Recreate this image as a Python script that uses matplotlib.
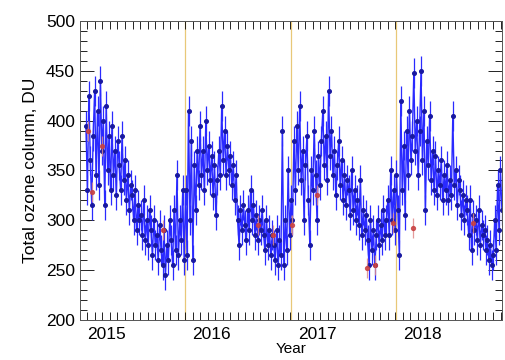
import numpy as np
import matplotlib.pyplot as plt
from matplotlib.ticker import MultipleLocator

plt.rcParams['font.family'] = ['Liberation Sans', 'DejaVu Sans']

# Daily-ish total ozone (DU), one value every 5 days starting late Oct 2014
start_year = 2014.807
step_days = 5
ozone = [
    # Oct 2014 - Sep 2015
    395, 330, 425, 360, 315,
    385, 430, 345, 410, 335,
    440, 370, 400, 315,
    415, 350, 385, 330,
    395, 345, 370, 325, 380,
    355, 330, 385, 340,
    360, 320, 345, 310, 335,
    325, 300, 330, 290, 315, 300,
    305, 285, 320, 280, 300, 275, 310,
    290, 265, 300, 275, 285, 260, 295,
    270, 255, 290, 245, 275, 260, 300,
    280, 255, 310, 270, 345, 265, 300, 280, 330, 260,
    # Oct 2015 - Sep 2016
    330, 265, 410, 300, 380,
    260, 355, 310, 370,
    335, 395, 345, 370, 330,
    400, 350, 375, 340, 365,
    325, 355, 305, 340, 370, 345,
    415, 360, 390, 345, 375, 350,
    365, 335, 355, 320, 345,
    300, 275, 310, 290, 315,
    295, 280, 310, 290, 330, 300,
    315, 285, 305, 280, 300, 290, 310,
    285, 270, 300, 275, 290, 265, 285,
    275, 260, 290, 255, 280, 265,
    390, 255, 300, 270, 350, 285, 320,
    # Oct 2016 - Sep 2017
    300, 380, 330, 395, 350,
    415, 340, 370, 300, 355,
    385, 320, 275, 350, 330,
    390, 345, 300, 365, 335, 380,
    410, 355, 385, 340, 430, 365,
    390, 345, 370, 325, 355,
    380, 335, 360, 320, 345, 315, 340,
    330, 305, 350, 310, 330, 300,
    320, 295, 340, 285, 310, 290, 305,
    280, 255, 300, 270, 290, 255, 285,
    300, 275, 295, 280, 310, 285,
    300, 320, 285, 350, 300, 330, 290, 345, 310,
    # Oct 2017 - Sep 2018
    265, 420, 330, 375, 305,
    390, 345, 410, 360, 385,
    448, 370, 400, 345, 390,
    450, 360, 410, 310, 380,
    355, 405, 340, 370, 330,
    365, 325, 350, 335, 360, 320,
    345, 330, 355, 320, 340, 325,
    405, 335, 350, 315, 340,
    330, 305, 325, 300, 320,
    310, 285, 320, 270, 305, 290,
    300, 280, 310, 275, 295, 285,
    290, 270, 280, 260, 275, 255, 265,
    300, 270, 335, 290, 350, 310,
]
ozone_err = 15

# second (ground-based) series shown in red
red_years = [2014.826, 2014.864, 2014.959, 2015.537, 2016.437, 2016.579, 2016.759,
             2016.996, 2017.470, 2017.546, 2017.717, 2017.906, 2018.475]
red_ozone = [390, 328, 375, 290, 295, 285, 295, 325, 252, 255, 297, 292, 297]
red_err = 10

season_lines = [2015.75, 2016.75, 2017.75]
year_ticks = [2015.0, 2016.0, 2017.0, 2018.0]
year_labels = ['2015', '2016', '2017', '2018']

years = start_year + np.arange(len(ozone)) * step_days / 365.25

fig = plt.figure(figsize=(5.06, 3.6), dpi=100)
ax = fig.add_axes([0.158, 0.111, 0.834, 0.831])

for x in season_lines:
    ax.axvline(x, color='#e8c878', lw=0.9, zorder=1)

ax.errorbar(years, ozone, yerr=ozone_err, fmt='-o', ms=2.6, lw=1.0, color='#2a2aff',
            mfc='#1818a0', mec='#1818a0', elinewidth=0.9, capsize=0, zorder=2)
ax.errorbar(red_years, red_ozone, yerr=red_err, fmt='o', ms=2.8, color='#e08a8a',
            mfc='#c84040', mec='#c84040', elinewidth=0.9, capsize=0, alpha=0.85,
            zorder=3)

ax.set_xlim(2014.75, 2018.75)
ax.set_ylim(200, 500)
ax.set_xticks(year_ticks)
ax.set_xticklabels(year_labels)
ax.set_xticks(np.arange(2014.75, 2018.75, 26 / 365.25), minor=True)
ax.yaxis.set_major_locator(MultipleLocator(50))
ax.yaxis.set_minor_locator(MultipleLocator(10))
ax.tick_params(axis='x', which='major', length=0, labelsize=12.5, pad=5)
ax.tick_params(axis='x', which='minor', direction='in', length=6, width=0.6,
               top=True, bottom=True)
ax.tick_params(axis='y', which='major', direction='in', length=10, width=0.6,
               labelsize=12.5, left=True, right=True)
ax.tick_params(axis='y', which='minor', direction='in', length=5, width=0.6,
               left=True, right=True)
for s in ax.spines.values():
    s.set_linewidth(0.7)
    s.set_color('#555555')

ax.set_xlabel('Year', fontsize=11, labelpad=0)
ax.set_ylabel('Total ozone column, DU', fontsize=12.5, labelpad=6)

fig.savefig('out.png', dpi=100)
